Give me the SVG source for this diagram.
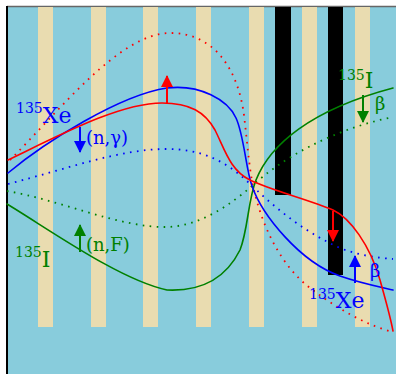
<svg xmlns="http://www.w3.org/2000/svg" width="396" height="374" viewBox="0 0 396 374">
<style>
.bg{fill:#88CCDC}
.fuel{fill:#E9DCB0}
.rod{fill:#000}
.c{fill:none;stroke-width:1.6;stroke-linejoin:round;stroke-linecap:round}
.d{fill:none;stroke-width:1.8;stroke-dasharray:1.6 5.4}
.r{stroke:#FF0000}
.b{stroke:#0000FF}
.g{stroke:#008000}
.ar{stroke-width:2;fill:none}
text{font-family:"DejaVu Serif","Liberation Serif",serif}
.big{font-size:22px}
.sup{font-size:14px}
.lab{font-size:18px}
.tb{fill:#0000FF}
.tg{fill:#008000}
</style>
<defs>
<marker id="hr" markerUnits="userSpaceOnUse" markerWidth="12" markerHeight="12" viewBox="0 0 12 12" refX="11" refY="6" orient="auto"><path d="M0,0 L12,6 L0,12 Z" fill="#FF0000"/></marker>
<marker id="hb" markerUnits="userSpaceOnUse" markerWidth="12" markerHeight="12" viewBox="0 0 12 12" refX="11" refY="6" orient="auto"><path d="M0,0 L12,6 L0,12 Z" fill="#0000FF"/></marker>
<marker id="hg" markerUnits="userSpaceOnUse" markerWidth="12" markerHeight="12" viewBox="0 0 12 12" refX="11" refY="6" orient="auto"><path d="M0,0 L12,6 L0,12 Z" fill="#008000"/></marker>
</defs>
<g id="background">
<rect class="bg" x="8" y="7" width="388" height="367"/>
<line x1="7" y1="6.5" x2="396" y2="6.5" stroke="#666" stroke-width="1.5"/>
<line x1="7" y1="6" x2="7" y2="374" stroke="#000" stroke-width="2"/>
</g>
<g id="fuel">
<rect class="fuel" x="38" y="7" width="15" height="320"/>
<rect class="fuel" x="91" y="7" width="15" height="320"/>
<rect class="fuel" x="143" y="7" width="15" height="320"/>
<rect class="fuel" x="196" y="7" width="15" height="320"/>
<rect class="fuel" x="249" y="7" width="15" height="320"/>
<rect class="fuel" x="302" y="7" width="15" height="320"/>
<rect class="fuel" x="355" y="7" width="15" height="320"/>
</g>
<g id="rods">
<rect class="rod" x="275" y="7" width="16" height="188"/>
<rect class="rod" x="328" y="7" width="15" height="268"/>
</g>
<g id="connectors">
<path class="d g" d="M7,191 C60,200 120,228 167,227 C200,226 230,205 252,186 C280,160 330,130 393,117"/>
<path class="d b" d="M8,184 C70,168 120,149 167,149 C200,149 225,160 249,183 C270,203 300,230 340,248 C360,256 380,258 393,259"/>
<path class="d r" d="M10,160 C60,110 120,33 170,33 C215,33 238,70 244,115 C248,150 250,175 254,190 C262,225 280,265 310,288 C335,307 365,325 393,332"/>
<path class="c g" d="M7,204 C50,230 120,280 167,290 C210,292 230,270 240,250 C248,230 248,200 256,180 C270,145 310,110 393,88"/>
<path class="c b" d="M8,173 C45,142 120,95 167,88 C200,84 228,100 236,118 C244,135 246,170 252,186 C262,215 300,262 340,276 C360,283 380,287 393,290"/>
<path class="c r" d="M8,160 C60,135 120,103 162,103 C190,103 205,112 215,130 C225,150 230,170 250,180 C270,190 310,200 333,210 C350,218 370,245 380,280 C385,298 390,315 393,331"/>
<line class="ar" stroke="#FF0000" x1="167" y1="103" x2="167" y2="76" marker-end="url(#hr)"/>
<line class="ar" stroke="#FF0000" x1="333" y1="211" x2="333" y2="241" marker-end="url(#hr)"/>
<line class="ar" stroke="#0000FF" x1="80" y1="127" x2="80" y2="152" marker-end="url(#hb)"/>
<line class="ar" stroke="#0000FF" x1="355" y1="283" x2="355" y2="256" marker-end="url(#hb)"/>
<line class="ar" stroke="#008000" x1="80" y1="252" x2="80" y2="225" marker-end="url(#hg)"/>
<line class="ar" stroke="#008000" x1="363" y1="95" x2="363" y2="122" marker-end="url(#hg)"/>
</g>
<g id="labels">
<text class="tb" x="16"><tspan class="sup" y="113">135</tspan><tspan class="big" y="123">Xe</tspan></text>
<text class="tb lab" x="86" y="144">(n,γ)</text>
<text class="tg" x="15"><tspan class="sup" y="257">135</tspan><tspan class="big" y="267">I</tspan></text>
<text class="tg lab" x="86" y="251">(n,F)</text>
<text class="tg" x="338"><tspan class="sup" y="80">135</tspan><tspan class="big" y="88">I</tspan></text>
<text class="tg lab" x="375" y="110">β</text>
<text class="tb" x="309"><tspan class="sup" y="299">135</tspan><tspan class="big" y="308">Xe</tspan></text>
<text class="tb lab" x="370" y="277">β</text>
</g>
</svg>
